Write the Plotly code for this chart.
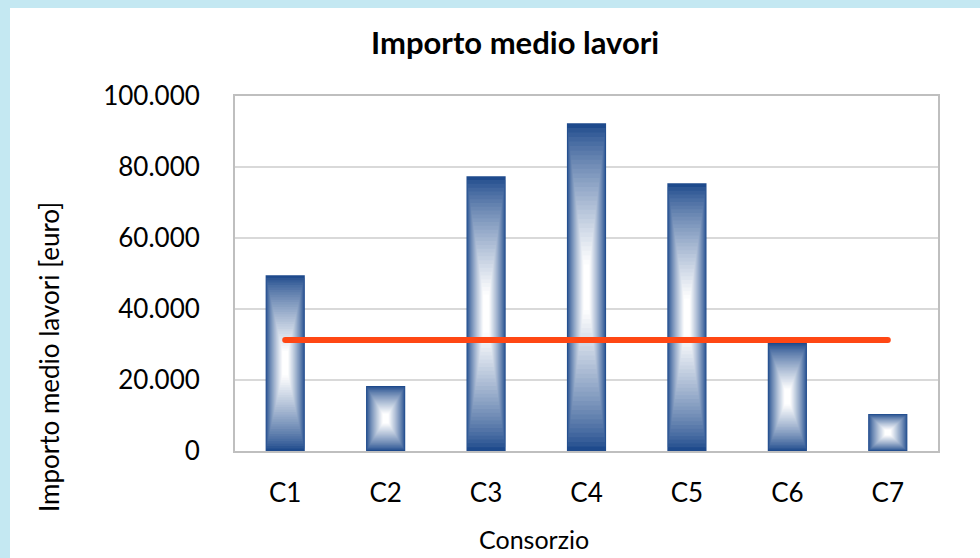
import plotly.graph_objects as go
import numpy as np

categories = ["C1", "C2", "C3", "C4", "C5", "C6", "C7"]
values = [49500, 18300, 77400, 92300, 75400, 30500, 10400]
reference_value = 31300
reference_line = [reference_value] * len(categories)
y_ticks = [0, 20000, 40000, 60000, 80000, 100000]

W, H = 980, 558
FONT = "Lato"
dark = np.array([30, 74, 140])
light = np.array([255, 255, 255])
bar_w = 0.39
levels = 36

L, R, T, B = 235, 42, 96, 107
PW, PH = W - L - R, H - T - B

def px(x):
    return (x - L) / PW

def py(y):
    return 1 - (y - T) / PH

fig = go.Figure()
vals = np.array(values, dtype=float)
for k in range(levels):
    t = k / levels
    c = dark + (light - dark) * min(1.0, (t / 0.85) ** 0.8)
    color = "rgb(%d,%d,%d)" % tuple(c.round().astype(int))
    fig.add_trace(go.Bar(
        x=categories, y=vals * (1 - t), base=vals * t / 2,
        width=bar_w * (1 - t), marker=dict(color=color, line=dict(width=0)),
        hoverinfo="skip", showlegend=False))

fig.add_trace(go.Scatter(
    x=categories, y=reference_line, mode="lines",
    line=dict(color="#FF4714", width=6), showlegend=False))

fig.update_layout(
    width=W, height=H, barmode="overlay",
    separators=",.",
    paper_bgcolor="#C4E8F2", plot_bgcolor="white",
    margin=dict(l=L, r=R, t=T, b=B),
    font=dict(family=FONT, color="black"),
    shapes=[dict(type="rect", xref="paper", yref="paper", layer="below",
                 x0=px(10), x1=px(W + 5), y0=py(H + 5), y1=py(8),
                 fillcolor="white", line=dict(width=0))],
    xaxis=dict(range=[-0.5, 6.5], showline=True, linecolor="#BFBFBF", linewidth=2,
               mirror=True, showgrid=False, tickfont=dict(size=26, family=FONT),
               ticklabelstandoff=18, ticks=""),
    yaxis=dict(range=[0, 100000], tickvals=y_ticks, tickformat=",.0f",
               showline=True, linecolor="#BFBFBF", linewidth=2, mirror=True,
               gridcolor="#D9D9D9", gridwidth=2, zeroline=False,
               tickfont=dict(size=26, family=FONT), ticklabelstandoff=28, ticks=""),
    annotations=[
        dict(text="<b>Importo medio lavori</b>", xref="paper", yref="paper",
             x=px(515), y=py(42), xanchor="center", yanchor="middle",
             showarrow=False, font=dict(size=31, family=FONT)),
        dict(text="Consorzio", xref="paper", yref="paper",
             x=px(534), y=py(539), xanchor="center", yanchor="middle",
             showarrow=False, font=dict(size=25, family=FONT)),
        dict(text="Importo medio lavori [euro]", xref="paper", yref="paper",
             x=px(49), y=py(357), xanchor="center", yanchor="middle",
             showarrow=False, textangle=-90, font=dict(size=26, family=FONT)),
    ],
)

fig.write_html("out.html", config={"displayModeBar": False},
               post_script="document.body.style.margin='0';document.body.style.overflow='hidden';"
                           "document.querySelectorAll('.scatterlayer path.js-line').forEach(function(p){p.style.strokeLinecap='round';});")
